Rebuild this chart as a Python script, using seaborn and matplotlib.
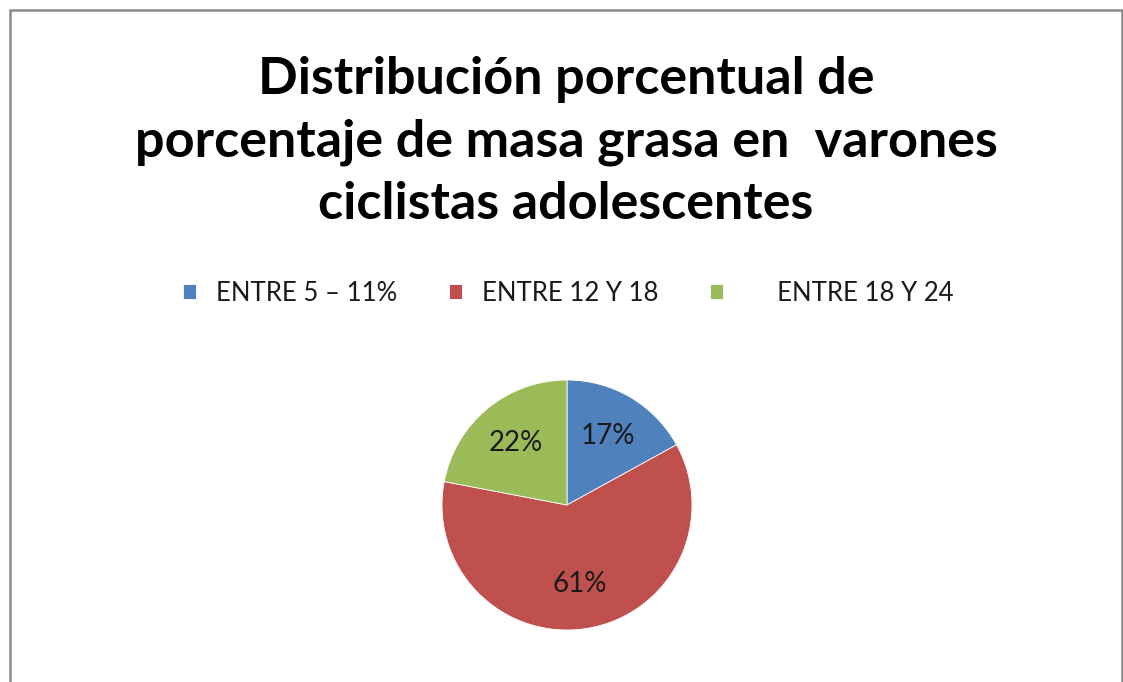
import matplotlib
matplotlib.use("Agg")
import matplotlib.pyplot as plt
import matplotlib.patches as mpatches
import seaborn as sns

categories = ["ENTRE 5 – 11%", "ENTRE 12 Y 18", "     ENTRE 18 Y 24"]
values = [17, 61, 22]
colors = ["#4F81BD", "#C0504D", "#9BBB59"]
title = "Distribución porcentual de\nporcentaje de masa grasa en  varones\nciclistas adolescentes"

sns.set_theme(style="white")
plt.rcParams["font.family"] = ["Lato", "DejaVu Sans"]

W, H = 1123, 682
fig = plt.figure(figsize=(W / 100, H / 100), dpi=100)
fig.patch.set_facecolor("white")

# outer frame
frame = mpatches.Rectangle((10 / W, -0.05), (1121.5 - 10) / W, (H - 9.5) / H + 0.05,
                           transform=fig.transFigure, fill=False,
                           edgecolor="#8a8a8a", linewidth=1.8, zorder=0)
fig.patches.append(frame)

cx, cy, r = 567, 505, 125
ax = fig.add_axes([(cx - r) / W, (H - cy - r) / H, 2 * r / W, 2 * r / H])
wedges, texts, autotexts = ax.pie(values, colors=sns.color_palette(colors), startangle=90,
                                  counterclock=False, autopct="%1.0f%%", pctdistance=0.64,
                                  wedgeprops=dict(edgecolor="white", linewidth=0.6),
                                  textprops=dict(fontsize=20, color="#1a1a1a"))
ax.set_xlim(-1.0, 1.0)
ax.set_ylim(-1.0, 1.0)
ax.set_aspect("equal")

fig.text(566 / W, 1 - 142 / H, title, ha="center", va="center", fontsize=37.5,
         fontweight="bold", linespacing=1.41, color="black")

fig.legend(wedges, categories, loc="center", bbox_to_anchor=(568 / W, 1 - 293 / H),
           ncol=3, frameon=False, fontsize=18.5, handlelength=0.5, handleheight=0.5,
           handletextpad=0.8, columnspacing=2.0, labelcolor="#1a1a1a")

fig.savefig("out.png", dpi=100, facecolor="white")
